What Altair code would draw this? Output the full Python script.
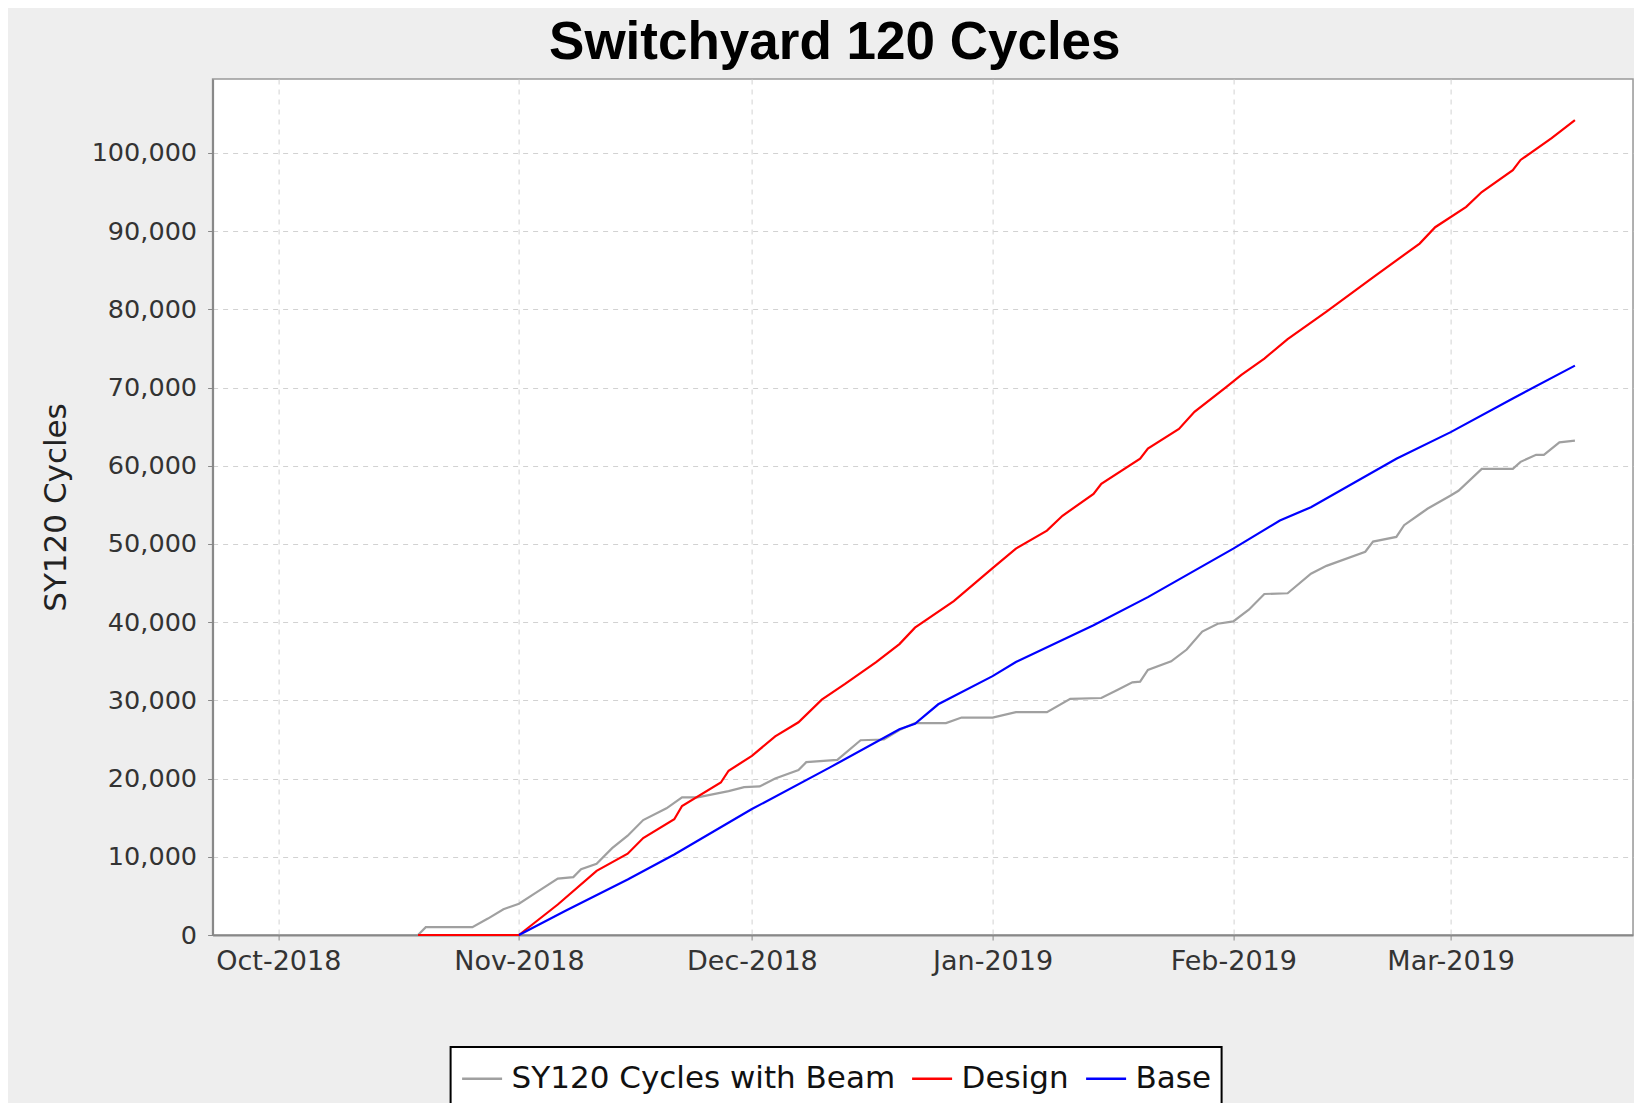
import altair as alt
import pandas as pd

series_names = ["SY120 Cycles with Beam", "Design", "Base"]
series_colors = ["#a0a0a0", "#ff0000", "#0000ff"]

beam_dates = [
    "2018-10-19", "2018-10-20", "2018-10-26", "2018-10-28", "2018-10-30", "2018-11-01",
    "2018-11-03", "2018-11-06", "2018-11-08", "2018-11-09", "2018-11-11", "2018-11-13",
    "2018-11-15", "2018-11-17", "2018-11-20", "2018-11-22", "2018-11-24", "2018-11-28",
    "2018-11-30", "2018-12-02", "2018-12-04", "2018-12-07", "2018-12-08", "2018-12-12",
    "2018-12-15", "2018-12-18", "2018-12-20", "2018-12-22", "2018-12-26", "2018-12-28",
    "2019-01-01", "2019-01-04", "2019-01-08", "2019-01-11", "2019-01-15", "2019-01-17",
    "2019-01-19", "2019-01-20", "2019-01-21", "2019-01-24", "2019-01-26", "2019-01-28",
    "2019-01-30", "2019-02-01", "2019-02-03", "2019-02-05", "2019-02-08", "2019-02-11",
    "2019-02-13", "2019-02-18", "2019-02-19", "2019-02-22", "2019-02-23", "2019-02-25",
    "2019-02-26", "2019-03-01", "2019-03-02", "2019-03-05", "2019-03-09", "2019-03-10",
    "2019-03-12", "2019-03-13", "2019-03-15", "2019-03-17",
]
beam_values = [
    0, 1000, 1000, 2100, 3300, 4000,
    5300, 7200, 7400, 8400, 9100, 11100,
    12700, 14700, 16200, 17600, 17600, 18400,
    18900, 19000, 20000, 21100, 22100, 22400,
    24900, 25000, 26200, 27100, 27100, 27800,
    27800, 28500, 28500, 30200, 30300, 31300,
    32300, 32400, 33900, 35000, 36500, 38800,
    39800, 40100, 41600, 43600, 43700, 46200,
    47200, 49000, 50300, 50900, 52400, 53800,
    54500, 56200, 56800, 59600, 59600, 60500,
    61400, 61400, 63000, 63200,
]

design_dates = [
    "2018-10-19", "2018-11-01", "2018-11-06", "2018-11-11", "2018-11-15", "2018-11-17",
    "2018-11-21", "2018-11-22", "2018-11-27", "2018-11-28", "2018-12-01", "2018-12-04",
    "2018-12-07", "2018-12-10", "2018-12-13", "2018-12-17", "2018-12-20", "2018-12-22",
    "2018-12-27", "2019-01-01", "2019-01-04", "2019-01-08", "2019-01-10", "2019-01-14",
    "2019-01-15", "2019-01-20", "2019-01-21", "2019-01-25", "2019-01-27", "2019-01-31",
    "2019-02-02", "2019-02-05", "2019-02-08", "2019-02-13", "2019-02-19", "2019-02-25",
    "2019-02-27", "2019-03-03", "2019-03-05", "2019-03-09", "2019-03-10", "2019-03-14",
    "2019-03-17",
]
design_values = [
    0, 0, 3900, 8200, 10400, 12400,
    14800, 16500, 19500, 21000, 22900, 25400,
    27200, 30100, 32100, 34900, 37200, 39300,
    42700, 46900, 49400, 51700, 53600, 56400,
    57700, 60900, 62200, 64700, 66900, 70000,
    71600, 73700, 76200, 79700, 84100, 88400,
    90500, 93100, 95000, 97800, 99100, 101900,
    104200,
]

base_dates = [
    "2018-11-01", "2018-11-07", "2018-11-15", "2018-11-21", "2018-12-01", "2018-12-11",
    "2018-12-20", "2018-12-22", "2018-12-25", "2019-01-01", "2019-01-04", "2019-01-14",
    "2019-01-21", "2019-02-01", "2019-02-07", "2019-02-11", "2019-02-22", "2019-03-01",
    "2019-03-09", "2019-03-17",
]
base_values = [
    0, 3100, 7100, 10300, 16100, 21400,
    26300, 27000, 29500, 33100, 34900, 39600,
    43200, 49400, 53000, 54700, 60900, 64300,
    68600, 72800,
]

y_tick_values = [0, 10000, 20000, 30000, 40000, 50000, 60000, 70000, 80000, 90000, 100000]

rows = []
for name, ds, vs in [
    (series_names[0], beam_dates, beam_values),
    (series_names[1], design_dates, design_values),
    (series_names[2], base_dates, base_values),
]:
    for i, (d, v) in enumerate(zip(ds, vs)):
        rows.append({"date": d + "T00:00:00", "cycles": v, "series": name, "order": i})
df = pd.DataFrame(rows)

x_axis = alt.Axis(
    title=None,
    format="%b-%Y",
    tickCount={"interval": "month", "step": 1},
    labelFont="DejaVu Sans",
    labelFontSize=27,
    labelColor="#333333",
    labelPadding=8,
    tickSize=5,
    tickColor="#888888",
    domainColor="#888888",
    domainWidth=2,
    grid=True,
    gridColor="#d2d2d2",
    gridDash=[5, 5],
    gridWidth=1,
)

y_axis = alt.Axis(
    title="SY120 Cycles",
    values=y_tick_values,
    format=",.0f",
    labelFont="DejaVu Sans",
    labelFontSize=25.5,
    labelColor="#333333",
    labelPadding=11,
    tickSize=5,
    tickColor="#888888",
    domainColor="#888888",
    domainWidth=2,
    grid=True,
    gridColor="#d2d2d2",
    gridDash=[5, 5],
    gridWidth=1,
    titleFont="DejaVu Sans",
    titleFontSize=31,
    titleFontWeight="normal",
    titleColor="#222222",
    titleAngle=270,
    titleAlign="center",
    titleBaseline="alphabetic",
    titleX=-147,
    titleY=428,
)

legend = alt.Legend(
    title=None,
    orient="none",
    legendX=238,
    legendY=968,
    direction="horizontal",
    symbolType="stroke",
    symbolSize=1600,
    symbolStrokeWidth=2.5,
    labelFont="DejaVu Sans",
    labelFontSize=31,
    labelColor="#111111",
    labelOffset=8,
    labelLimit=800,
    columnPadding=11,
    padding=10,
    strokeColor="black",
    fillColor="white",
)

chart = (
    alt.Chart(df)
    .mark_line(strokeWidth=2.2)
    .encode(
        x=alt.X(
            "date:T",
            scale=alt.Scale(
                domain=[
                    alt.DateTime(year=2018, month=9, date=22, hours=13),
                    alt.DateTime(year=2019, month=3, date=24, hours=11, minutes=30),
                ],
                nice=False,
            ),
            axis=x_axis,
        ),
        y=alt.Y(
            "cycles:Q",
            scale=alt.Scale(domain=[0, 109450], nice=False),
            axis=y_axis,
        ),
        color=alt.Color(
            "series:N",
            scale=alt.Scale(domain=series_names, range=series_colors),
            legend=legend,
        ),
        order=alt.Order("order:Q"),
    )
    .properties(
        width=1420.4,
        height=856,
        title=alt.TitleParams(
            text="Switchyard 120 Cycles",
            font="Liberation Sans",
            fontSize=53,
            fontWeight="bold",
            color="black",
            anchor="middle",
            frame="group",
            dx=-88,
            offset=-33,
            baseline="alphabetic",
        ),
        autosize=alt.AutoSizeParams(type="none"),
        padding={"left": 204.6, "top": 71, "right": 1, "bottom": 168},
        background="#EEEEEE",
    )
    .configure_view(fill="white", stroke="#999999", strokeWidth=1.5)
    .configure_legend(strokeWidth=2)
)

chart.save("out.html", embed_options={"renderer": "svg", "actions": False})
